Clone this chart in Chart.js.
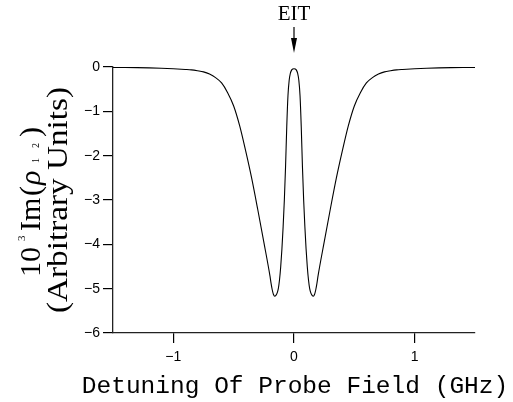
<!DOCTYPE html>
<html>
<head>
<meta charset="utf-8">
<script src="https://cdn.jsdelivr.net/npm/chart.js@4.4.1/dist/chart.umd.min.js"></script>
<style>
  html, body { margin: 0; padding: 0; background: #ffffff; }
  #wrap { width: 513px; height: 402px; }
</style>
</head>
<body>
<div id="wrap"><canvas id="c" width="513" height="402"></canvas></div>
<script>
// Probe detuning (GHz)
const detuning = [
  -1.5, -1.4, -1.3, -1.2, -1.1, -1.0, -0.9, -0.85, -0.8, -0.75, -0.7, -0.65, -0.6, -0.55,
  -0.5, -0.45, -0.4, -0.35, -0.3, -0.25, -0.2, -0.19, -0.18, -0.17, -0.16, -0.15, -0.14,
  -0.13, -0.12, -0.11, -0.1, -0.09, -0.08, -0.07, -0.06, -0.05, -0.04, -0.03, -0.02, -0.01,
  0,
  0.01, 0.02, 0.03, 0.04, 0.05, 0.06, 0.07, 0.08, 0.09, 0.1, 0.11, 0.12, 0.13, 0.14, 0.15,
  0.16, 0.17, 0.18, 0.19, 0.2, 0.25, 0.3, 0.35, 0.4, 0.45, 0.5, 0.55, 0.6, 0.65, 0.7, 0.75,
  0.8, 0.85, 0.9, 1.0, 1.1, 1.2, 1.3, 1.4, 1.5
];
// 10^3 Im(rho_12), arbitrary units
const imRho = [
  -0.01, -0.012, -0.015, -0.02, -0.028, -0.04, -0.055, -0.065, -0.085, -0.11, -0.16, -0.24, -0.36, -0.58,
  -0.88, -1.33, -1.9, -2.52, -3.22, -3.95, -4.7, -4.88, -5.03, -5.13, -5.17, -5.15, -5.1,
  -5.0, -4.8, -4.5, -4.1, -3.6, -3.0, -2.25, -1.34, -0.65, -0.3, -0.14, -0.07, -0.045,
  -0.04,
  -0.045, -0.07, -0.14, -0.3, -0.65, -1.34, -2.25, -3.0, -3.6, -4.1, -4.5, -4.8, -5.0, -5.1, -5.15,
  -5.17, -5.13, -5.03, -4.88, -4.7, -3.95, -3.22, -2.52, -1.9, -1.33, -0.88, -0.58, -0.36, -0.24, -0.16, -0.11,
  -0.085, -0.065, -0.055, -0.04, -0.028, -0.02, -0.015, -0.012, -0.01
];
const xTickValues = [-1, 0, 1];
const yTickValues = [0, -1, -2, -3, -4, -5, -6];

const xTitle = 'Detuning Of Probe Field (GHz)';
const yTitleUnits = '(Arbitrary Units)';
const peakLabel = 'EIT';

const fmt = v => (v < 0 ? '\u2212' + Math.abs(v) : String(v));

// Axis titles and the EIT marker
const annotations = {
  id: 'annotations',
  afterDraw(chart) {
    const ctx = chart.ctx;
    const area = chart.chartArea;
    const xs = chart.scales.x;
    ctx.save();
    ctx.fillStyle = '#000';
    ctx.strokeStyle = '#000';

    // x axis title
    ctx.font = '24.5px "Liberation Mono"';
    ctx.textAlign = 'center';
    ctx.textBaseline = 'alphabetic';
    ctx.fillText(xTitle, (area.left + area.right) / 2 + 1, 393);

    // EIT label with arrow pointing at zero detuning
    const px = xs.getPixelForValue(0);
    ctx.font = '21px "Liberation Serif"';
    ctx.fillText(peakLabel, px, 19.5);
    ctx.lineWidth = 1.2;
    ctx.beginPath();
    ctx.moveTo(px, 27);
    ctx.lineTo(px, 42);
    ctx.stroke();
    ctx.beginPath();
    ctx.moveTo(px - 3, 38);
    ctx.lineTo(px, 53);
    ctx.lineTo(px + 3, 38);
    ctx.closePath();
    ctx.fill();

    // y axis title, first line: 10^3 Im(rho_12)
    ctx.save();
    ctx.translate(40, 277);
    ctx.rotate(-Math.PI / 2);
    ctx.textAlign = 'left';
    const big = '30px "Liberation Serif"';
    const parts = [
      { t: '10', at: 0, dy: 0, font: big },
      { t: '3', at: 36, dy: -15, font: '11px "Liberation Serif"' },
      { t: 'Im', at: 46, dy: 0, font: big },
      { t: '(', at: 81, dy: 0, font: big },
      { t: '\u03C1', at: 92, dy: 0, font: 'italic 30px "Liberation Serif"' },
      { t: '1', at: 114, dy: -1, font: '10px "Liberation Serif"' },
      { t: '2', at: 129, dy: -1, font: '10px "Liberation Serif"' },
      { t: ')', at: 140, dy: 0, font: big }
    ];
    parts.forEach(p => {
      ctx.font = p.font;
      ctx.fillText(p.t, p.at, p.dy);
    });
    ctx.restore();

    // y axis title, second line
    ctx.save();
    ctx.translate(67, 200);
    ctx.rotate(-Math.PI / 2);
    ctx.font = '30px "Liberation Serif"';
    ctx.textAlign = 'center';
    const w = ctx.measureText(yTitleUnits).width;
    ctx.scale(226 / w, 1);
    ctx.fillText(yTitleUnits, 0, 0);
    ctx.restore();

    ctx.restore();
  }
};

new Chart(document.getElementById('c'), {
  type: 'line',
  data: {
    datasets: [{
      data: detuning.map((x, i) => ({ x: x, y: imRho[i] })),
      borderColor: '#000',
      borderWidth: 1.1,
      pointRadius: 0,
      fill: false,
      cubicInterpolationMode: 'monotone'
    }]
  },
  options: {
    responsive: false,
    animation: false,
    devicePixelRatio: 1,
    layout: { padding: { left: 0, right: 38, top: 67, bottom: 0 } },
    plugins: { legend: { display: false }, tooltip: { enabled: false } },
    scales: {
      x: {
        type: 'linear',
        min: -1.5,
        max: 1.5,
        afterBuildTicks: s => { s.ticks = xTickValues.map(v => ({ value: v })); },
        afterFit: s => { s.height = 69; },
        grid: { drawOnChartArea: false, drawTicks: true, tickLength: 10, color: '#000', lineWidth: 1.2 },
        border: { display: true, color: '#222', width: 1.3 },
        ticks: {
          color: '#000',
          font: { family: 'Liberation Sans', size: 14 },
          padding: 6,
          maxRotation: 0,
          callback: v => fmt(v)
        }
      },
      y: {
        type: 'linear',
        min: -6,
        max: 0,
        afterBuildTicks: s => { s.ticks = yTickValues.map(v => ({ value: v })); },
        afterFit: s => { s.width = 113; },
        grid: { drawOnChartArea: false, drawTicks: true, tickLength: 10, color: '#000', lineWidth: 1.2 },
        border: { display: true, color: '#222', width: 1.3 },
        ticks: {
          color: '#000',
          font: { family: 'Liberation Sans', size: 14 },
          padding: 3,
          callback: v => fmt(v)
        }
      }
    }
  },
  plugins: [annotations]
});
</script>
</body>
</html>
